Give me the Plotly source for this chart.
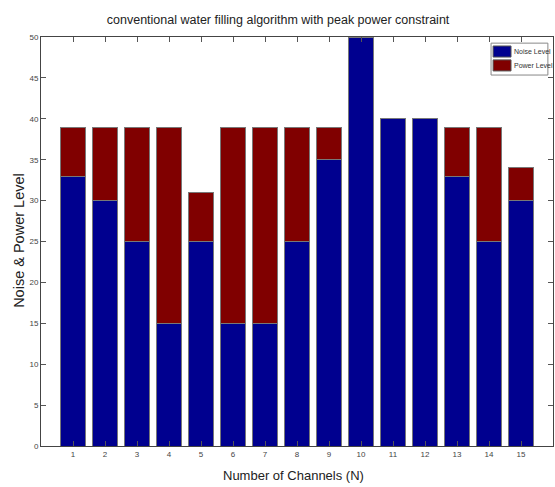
import plotly.graph_objects as go

channels = list(range(1, 16))
noise_level = [33, 30, 25, 15, 25, 15, 15, 25, 35, 50, 40, 40, 33, 25, 30]
power_level = [5.9, 8.9, 13.9, 23.9, 6, 23.9, 23.9, 13.9, 3.9, 0, 0, 0, 5.9, 13.9, 4]
y_ticks = [0, 5, 10, 15, 20, 25, 30, 35, 40, 45, 50]
series_names = ["Noise Level", "Power Level"]
series_colors = ["#00008F", "#800000"]

font = "Liberation Sans, Arial, sans-serif"

fig = go.Figure()
fig.add_trace(go.Bar(x=channels, y=noise_level, name=series_names[0], width=0.8,
                     marker=dict(color=series_colors[0], line=dict(color="rgb(120,120,120)", width=1))))
fig.add_trace(go.Bar(x=channels, y=power_level, name=series_names[1], width=0.8,
                     marker=dict(color=series_colors[1], line=dict(color="rgb(120,120,120)", width=1))))

# manual legend box (MATLAB style)
shapes = [dict(type="rect", xref="paper", yref="paper", x0=0.879, x1=0.990, y0=0.907, y1=0.985,
               line=dict(color="#888", width=1), fillcolor="white", layer="above")]
annotations = []
sw_y = [(0.951, 0.978), (0.917, 0.944)]
txt_y = [0.965, 0.930]
for name, col, (y0, y1), ty in zip(series_names, series_colors, sw_y, txt_y):
    shapes.append(dict(type="rect", xref="paper", yref="paper", x0=0.883, x1=0.918, y0=y0, y1=y1,
                       line=dict(color="#555", width=1), fillcolor=col, layer="above"))
    annotations.append(dict(text=name, xref="paper", yref="paper", x=0.920, y=ty,
                            xanchor="left", yanchor="middle", showarrow=False,
                            font=dict(family=font, size=7, color="#333")))

annotations.append(dict(text="Number of Channels (N)", xref="paper", yref="paper",
                        x=0.494, y=-0.073, xanchor="center", yanchor="middle", showarrow=False,
                        font=dict(family=font, size=13, color="#222")))
annotations.append(dict(text="Noise &amp; Power Level", xref="paper", yref="paper",
                        x=-0.043, y=0.504, xanchor="center", yanchor="middle", showarrow=False,
                        textangle=-90, font=dict(family=font, size=14.5, color="#222")))

fig.update_layout(
    barmode="stack",
    width=555, height=487,
    margin=dict(l=41, r=2, t=37, b=41),
    paper_bgcolor="white", plot_bgcolor="white",
    title=dict(text="conventional water filling algorithm with peak power constraint",
               xref="container", yref="container",
               x=0.501, xanchor="center", y=0.959, yanchor="middle",
               font=dict(family=font, size=12.5, color="#222")),
    showlegend=False,
    shapes=shapes,
    annotations=annotations,
    xaxis=dict(range=[0, 16], tickmode="array", tickvals=channels,
               ticks="inside", ticklen=5, tickcolor="#555", mirror="ticks",
               showline=True, linecolor="#444", linewidth=1, showgrid=False,
               zeroline=False, automargin=False,
               tickfont=dict(family=font, size=8, color="#444")),
    yaxis=dict(range=[0, 50], tickmode="array", tickvals=y_ticks,
               ticks="inside", ticklen=5, tickcolor="#555", mirror="ticks",
               showline=True, linecolor="#444", linewidth=1, showgrid=False,
               zeroline=False, automargin=False,
               tickfont=dict(family=font, size=8, color="#444")),
)

fig.write_html("out.html", config={"displayModeBar": False},
               post_script="document.body.style.margin='0';document.body.style.overflow='hidden';")
